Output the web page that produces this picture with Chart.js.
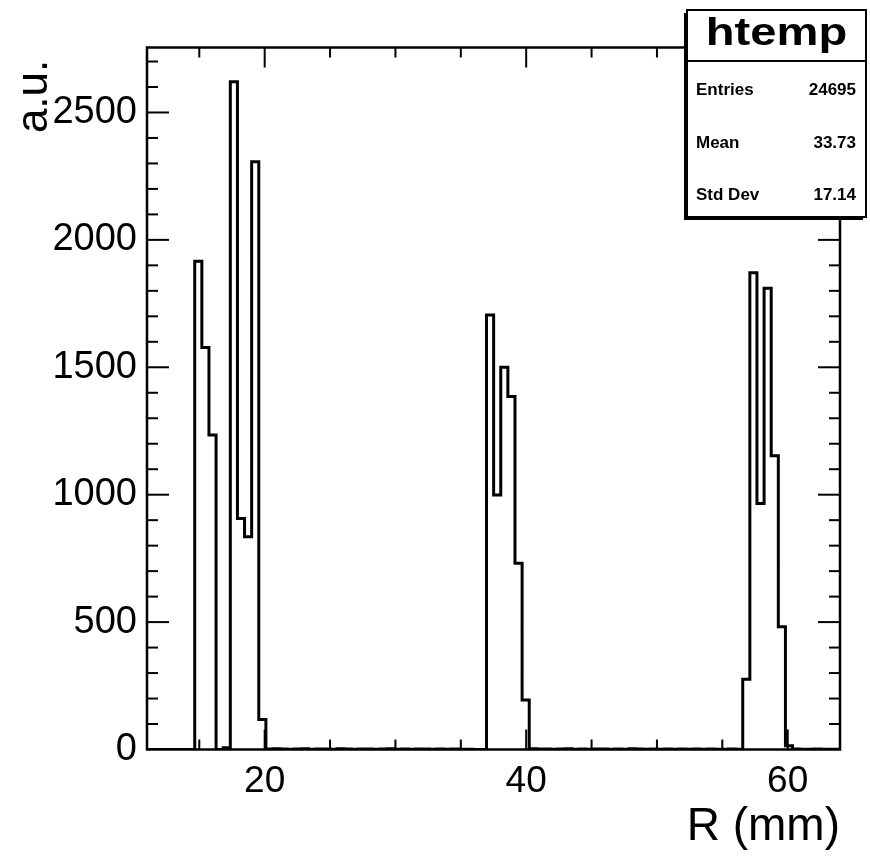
<!DOCTYPE html>
<html><head><meta charset="utf-8">
<script src="https://cdn.jsdelivr.net/npm/chart.js@4.4.0/dist/chart.umd.min.js"></script>
<style>html,body{margin:0;padding:0;background:#fff;} #wrap{width:870px;height:856px;}</style>
</head><body><div id="wrap"><canvas id="c" width="870" height="856"></canvas></div>
<script>
// ---- data ----
const histTitle = 'htemp';
const xTitle = 'R (mm)';
const yTitle = 'a.u. ';
const histXmin = 10.84;     // lower edge of first bin
const binWidth = 0.5443;    // bin width (mm)
const counts = [
  0,0,0,0,0,0,0,
  1916,1578,1234,0,7,2621,907,835,2307,118,
  2,3,2,1,2,3,1,2,2,1,3,2,1,2,2,1,2,3,1,2,1,2,2,1,2,1,2,1,1,0,0,
  1705,999,1500,1385,731,194,
  3,2,2,1,2,3,1,2,1,2,2,1,2,1,3,2,1,2,1,2,1,2,1,2,1,2,1,1,2,1,
  276,1871,965,1810,1153,482,15,
  2,1,1,2,1,1,1
];
const xTickValues = [20, 40, 60];
const yTickValues = [0, 500, 1000, 1500, 2000, 2500];
const xRange = [11, 64];
const yRange = [0, 2755];
const statsLabels = ['Entries', 'Mean', 'Std Dev'];
const statsValues = ['24695', '33.73', '17.14'];

const FONT = '"Liberation Sans", Arial, Helvetica, sans-serif';

const pts = counts.map((c, i) => ({x: histXmin + i * binWidth, y: c}));
pts.push({x: histXmin + counts.length * binWidth, y: counts[counts.length - 1]});

const decor = {
  id: 'decor',
  afterDatasetsDraw(chart) {
    const {ctx, chartArea: a, scales: {x, y}} = chart;
    ctx.save();
    ctx.strokeStyle = '#000';
    ctx.lineWidth = 2;
    const line = (x0, y0, x1, y1) => { ctx.beginPath(); ctx.moveTo(x0, y0); ctx.lineTo(x1, y1); ctx.stroke(); };
    for (let v = 15; v <= 60; v += 5) {
      const px = x.getPixelForValue(v);
      const len = xTickValues.includes(v) ? 20 : 10;
      line(px, a.bottom, px, a.bottom - len);
      line(px, a.top, px, a.top + len);
    }
    for (let v = 100; v <= 2700; v += 100) {
      const py = y.getPixelForValue(v);
      const len = (v % 500 === 0) ? 22 : 11;
      line(a.left, py, a.left + len, py);
      line(a.right, py, a.right - len, py);
    }
    ctx.lineWidth = 2.5;
    ctx.strokeRect(a.left, a.top, a.right - a.left, a.bottom - a.top);
    ctx.restore();
  },
  afterDraw(chart) {
    const ctx = chart.ctx;
    const bx = 687, by = 10, bw = 179, bh = 207;
    ctx.save();
    ctx.fillStyle = '#000';
    ctx.fillRect(bx - 3, by + 3, bw, bh);
    ctx.fillStyle = '#fff';
    ctx.fillRect(bx, by, bw, bh);
    ctx.strokeStyle = '#000';
    ctx.lineWidth = 2;
    ctx.strokeRect(bx, by, bw, bh);
    ctx.beginPath(); ctx.moveTo(bx, 61); ctx.lineTo(bx + bw, 61); ctx.stroke();
    ctx.fillStyle = '#000';
    ctx.textBaseline = 'alphabetic';
    ctx.font = 'bold 38px ' + FONT;
    ctx.textAlign = 'center';
    ctx.save();
    ctx.translate(bx + bw / 2, 45);
    ctx.scale(1.24, 1);
    ctx.fillText(histTitle, 0, 0);
    ctx.restore();
    ctx.font = 'bold 17px ' + FONT;
    const rows = [94.5, 147.5, 199.5];
    statsLabels.forEach((l, i) => {
      ctx.textAlign = 'left';
      ctx.fillText(l, 696, rows[i]);
      ctx.textAlign = 'right';
      ctx.fillText(statsValues[i], 856, rows[i]);
    });
    ctx.restore();
  }
};

new Chart(document.getElementById('c'), {
  type: 'line',
  data: {datasets: [{
    data: pts, stepped: 'before', borderColor: '#000', borderWidth: 3,
    pointRadius: 0, fill: false, tension: 0
  }]},
  options: {
    responsive: false, animation: false, devicePixelRatio: 1,
    layout: {padding: {top: 47.5, right: 30, left: 0, bottom: 0}},
    plugins: {legend: {display: false}, tooltip: {enabled: false}},
    scales: {
      x: {
        type: 'linear', position: 'bottom', min: xRange[0], max: xRange[1],
        grid: {display: false, drawTicks: false}, border: {display: false},
        afterBuildTicks(s) { s.ticks = xTickValues.map(v => ({value: v})); },
        afterFit(s) { s.height = 106.5; },
        ticks: {color: '#000', font: {family: FONT, size: 37}, padding: 10, maxRotation: 0, autoSkip: false,
                callback: v => String(v)},
        title: {display: true, text: xTitle, align: 'end', color: '#000',
                font: {family: FONT, size: 46}, padding: {top: 0, bottom: 1}}
      },
      y: {
        type: 'linear', position: 'left', min: yRange[0], max: yRange[1],
        grid: {display: false, drawTicks: false}, border: {display: false},
        afterBuildTicks(s) { s.ticks = yTickValues.map(v => ({value: v})); },
        afterFit(s) { s.width = 147; },
        ticks: {color: '#000', font: {family: FONT, size: 38}, padding: 10, autoSkip: false,
                callback: v => String(v)},
        title: {display: true, text: yTitle, align: 'end', color: '#000',
                font: {family: FONT, size: 44}, padding: {top: 8, bottom: 0}}
      }
    }
  },
  plugins: [decor]
});
</script>
</body></html>
